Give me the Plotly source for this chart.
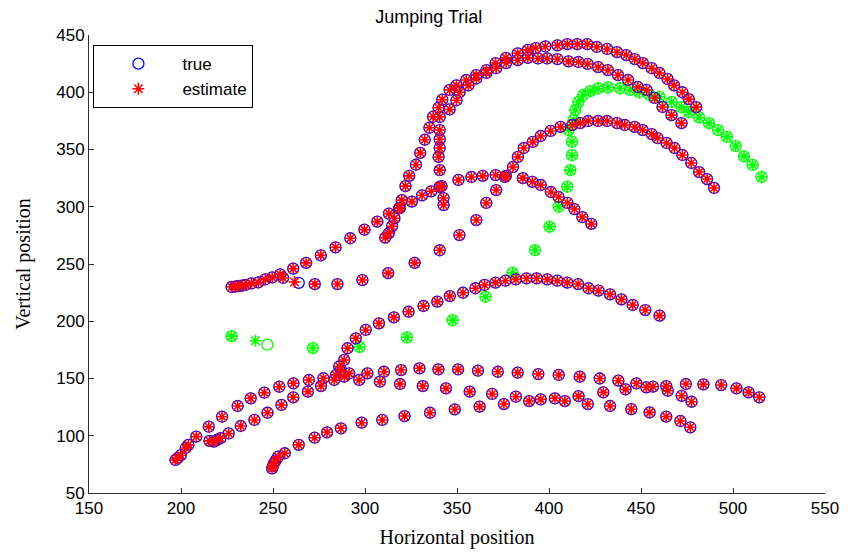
import plotly.graph_objects as go

# ---- tracked objects: true positions (estimates coincide except where noted) ----
track1_x = [227.5, 229.5, 231.3, 233.2, 235.0, 238.3, 242.0, 245.8, 249.6, 253.9, 261.0, 268.0,
            276.0, 284.0, 292.0, 299.7, 306.7, 313.0, 319.0, 325.5, 331.0, 336.0, 341.6, 350.8,
            357.8, 364.0, 371.0, 376.6, 385.8, 391.0, 395.5, 401.0, 405.2, 410.0, 413.8, 418.1, 423.0]
track1_y = [229.9, 230.3, 230.8, 231.2, 231.7, 233.0, 233.9, 236.5, 238.3, 240.9, 246.0, 251.0,
            257.6, 264.6, 272.5, 280.0, 287.0, 294.0, 299.0, 304.5, 310.0, 313.5, 318.0, 323.4,
            326.0, 327.0, 327.7, 327.0, 325.0, 321.8, 319.0, 312.9, 308.5, 303.3, 298.0, 291.0, 285.0]

track2_x = [255.5, 264.0, 272.7, 285.0, 298.6, 312.6, 327.0, 340.6, 351.3, 360.5, 365.9, 371.3,
            376.0, 380.4, 383.1, 386.3, 391.2, 395.5, 400.9, 406.3, 412.7, 417.0, 421.3, 426.7,
            431.6, 437.0, 441.2, 446.6, 450.9, 455.8, 459.0, 463.9, 468.2, 472.5, 477.3, 481.6,
            485.9, 489.7]
track2_y = [237.8, 233.6, 232.4, 232.5, 236.0, 242.0, 251.0, 262.0, 275.3, 288.4, 303.3, 314.6,
            326.0, 334.7, 343.5, 351.3, 356.6, 361.8, 366.2, 369.7, 371.4, 373.1, 374.9, 374.9,
            374.9, 373.1, 371.4, 369.7, 367.0, 363.5, 360.0, 355.7, 351.3, 345.2, 338.2, 330.3,
            324.2, 316.4]

track3_x = [311.0, 313.0, 314.7, 316.0, 318.5, 320.0, 322.0, 324.0, 327.7, 330.0, 332.5, 335.0,
            337.0, 340.0, 342.0, 346.0, 349.7, 355.0, 360.5, 366.0, 371.0, 376.6, 383.0, 388.5,
            392.8, 398.0, 404.6, 410.0, 415.4, 420.8, 426.0, 431.6, 437.0, 442.0, 446.6, 451.0,
            455.8, 460.0, 464.4, 468.0, 472.5, 476.0, 480.0]
track3_y = [273.0, 277.0, 283.0, 290.0, 298.5, 305.8, 318.0, 327.0, 336.7, 347.0, 358.5, 369.0,
            378.6, 386.5, 393.5, 402.0, 406.0, 410.7, 415.0, 419.4, 425.5, 430.0, 434.0, 437.0,
            438.6, 440.0, 441.0, 442.0, 442.0, 442.0, 439.5, 437.8, 435.0, 432.5, 429.0, 425.5,
            421.0, 416.8, 411.6, 406.0, 400.0, 394.0, 387.0]

track4_x = [342.7, 342.7, 340.6, 340.6, 340.0, 340.6, 340.6, 340.6, 340.6, 346.0, 349.7, 351.4,
            356.2, 360.5, 366.0, 371.3, 376.7, 383.0, 388.5, 394.0, 399.0, 404.6, 410.6, 416.0,
            421.0, 426.7, 432.0, 437.5, 443.0, 448.3, 453.0, 457.4, 461.7, 466.6, 472.0]
track4_y = [301.5, 307.6, 317.3, 332.0, 343.5, 351.3, 359.0, 367.0, 378.4, 385.0, 393.0, 400.0,
            406.0, 412.0, 416.8, 421.0, 425.5, 428.0, 430.0, 429.5, 429.5, 429.0, 427.0, 426.4,
            424.7, 422.0, 419.4, 415.0, 410.7, 404.6, 402.0, 395.0, 387.1, 380.0, 373.0]

track5_x = [197.0, 198.2, 199.9, 202.6, 204.0, 208.3, 215.1, 222.3, 230.8, 237.9, 245.3, 253.4,
            261.1, 269.5, 277.4, 284.2, 286.9, 291.4, 301.3, 310.3, 319.6, 329.6, 339.9, 350.6,
            361.4, 372.2, 383.0, 394.2, 405.3, 416.7, 427.6, 437.7, 447.5, 452.9, 456.5, 463.7,
            474.4, 483.9, 493.6, 501.9, 508.5, 514.3]
track5_y = [78.8, 80.5, 83.0, 89.3, 92.0, 99.2, 107.9, 116.6, 126.0, 132.7, 137.6, 142.8,
            145.8, 148.7, 150.2, 153.0, 157.4, 154.5, 154.5, 155.9, 157.4, 158.9, 158.0, 158.0,
            156.8, 155.9, 155.1, 153.9, 153.1, 151.6, 150.0, 148.1, 145.8, 142.3, 142.9, 143.4,
            145.2, 144.9, 144.3, 141.4, 137.9, 133.6]

track6_x = [215.5, 217.8, 219.5, 221.4, 225.9, 232.5, 239.9, 247.0, 254.6, 261.0, 269.0, 276.1,
            283.3, 288.7, 296.8, 308.1, 319.0, 331.4, 344.0, 356.9, 369.1, 382.0, 395.5, 403.2,
            416.1, 429.5, 441.6, 464.6, 472.1, 477.5]
track6_y = [95.5, 94.8, 96.3, 97.8, 102.0, 108.5, 113.8, 120.1, 126.9, 133.6, 138.5, 143.4,
            148.7, 151.6, 148.7, 147.2, 145.2, 143.4, 141.4, 138.5, 136.5, 134.1, 131.8, 132.7,
            134.6, 137.9, 140.5, 139.3, 134.9, 129.7]

track7_x = [286.0, 288.7, 290.5, 295.0, 300.4, 307.6, 315.7, 323.7, 331.8, 339.3, 346.1, 353.3,
            360.0, 365.0, 370.9, 376.3, 382.0, 387.8, 393.3, 399.1, 404.5, 409.9, 415.8, 421.5,
            426.9, 433.2, 439.4, 445.5, 452.3, 460.1]
track7_y = [160.5, 166.2, 176.4, 185.1, 192.4, 198.2, 203.4, 208.3, 213.3, 217.1, 222.0, 224.9,
            228.8, 231.7, 233.7, 235.4, 236.6, 237.5, 237.5, 236.6, 235.4, 233.7, 232.5, 228.8,
            226.7, 223.5, 219.1, 214.2, 209.8, 204.9]

track8_x = [249.5, 250.0, 250.5, 251.5, 252.8, 256.4, 264.0, 272.6, 279.4, 286.9, 298.2, 309.4,
            321.5, 335.3, 348.8, 362.3, 375.5, 389.2, 408.6, 421.1, 433.2, 444.7, 454.7, 463.7,
            471.4, 476.8]
track8_y = [71.5, 73.5, 76.0, 78.5, 81.7, 84.7, 92.0, 98.3, 103.0, 106.5, 111.4, 113.8,
            117.2, 120.1, 123.1, 125.4, 127.7, 130.3, 130.3, 127.7, 126.0, 123.2, 120.4, 116.7,
            112.9, 107.4]

# estimate for track 2 drifts at its second sample
track2_est_x = list(track2_x)
track2_est_y = list(track2_y)
track2_est_x[1], track2_est_y[1] = 261.7, 234.3

# green object (true / estimate)
green_true_x = [227.5, 247.0, 271.7, 297.0, 322.8, 347.6, 365.5, 380.2, 392.4, 400.3, 405.3, 409.9,
                411.6, 412.5, 412.5, 410.7, 413.4, 414.3, 416.0, 418.6, 422.4, 426.7, 432.0, 438.6,
                444.0, 449.0, 454.7, 460.0, 466.6, 472.0, 476.0, 481.6, 487.0, 491.9, 496.7, 501.5,
                506.0, 510.7, 515.5]
green_true_y = [187.0, 179.5, 176.6, 177.5, 186.0, 201.0, 221.4, 242.4, 262.2, 282.6, 300.0, 317.5,
                332.0, 345.0, 356.8, 367.0, 375.8, 384.5, 391.5, 397.6, 401.0, 403.3, 404.2, 403.5,
                402.0, 400.0, 397.6, 396.0, 391.5, 387.0, 382.7, 378.0, 373.0, 367.0, 361.0, 353.0,
                344.0, 336.5, 326.0]
green_est_x = list(green_true_x)
green_est_y = list(green_true_y)
green_est_x[1], green_est_y[1] = 240.5, 183.0

x_ticks = [150, 200, 250, 300, 350, 400, 450, 500, 550]
y_ticks = [50, 100, 150, 200, 250, 300, 350, 400, 450]

tracks_x = [track1_x, track2_x, track3_x, track4_x, track5_x, track6_x, track7_x, track8_x]
tracks_y = [track1_y, track2_y, track3_y, track4_y, track5_y, track6_y, track7_y, track8_y]
est_x = [track1_x, track2_est_x, track3_x, track4_x, track5_x, track6_x, track7_x, track8_x]
est_y = [track1_y, track2_est_y, track3_y, track4_y, track5_y, track6_y, track7_y, track8_y]

true_x = [v for t in tracks_x for v in t]
true_y = [v for t in tracks_y for v in t]
estimate_x = [v for t in est_x for v in t]
estimate_y = [v for t in est_y for v in t]

GREEN = "#00ff00"
fig = go.Figure()
fig.add_trace(go.Scatter(x=green_true_x, y=green_true_y, mode="markers", showlegend=False,
                         marker=dict(symbol="circle-open", size=11, color=GREEN,
                                     line=dict(color=GREEN, width=1.3))))
fig.add_trace(go.Scatter(x=green_est_x, y=green_est_y, mode="markers", showlegend=False,
                         marker=dict(symbol="asterisk-open", size=10, color=GREEN,
                                     line=dict(color=GREEN, width=1.6))))
fig.add_trace(go.Scatter(x=true_x, y=true_y, mode="markers", name="true",
                         marker=dict(symbol="circle-open", size=11, color="#0000ff",
                                     line=dict(color="#0000ff", width=1.3))))
fig.add_trace(go.Scatter(x=estimate_x, y=estimate_y, mode="markers", name="estimate",
                         marker=dict(symbol="asterisk-open", size=10, color="#ff0000",
                                     line=dict(color="#ff0000", width=1.6))))

axis_common = dict(showgrid=False, zeroline=False, showline=True, linecolor="#303030",
                   linewidth=1, ticks="inside", ticklen=5, tickcolor="#303030", mirror=False,
                   tickfont=dict(family="Liberation Sans, Arial", size=17, color="#000000"))

fig.update_layout(
    width=851, height=556,
    margin=dict(l=89, r=19, t=35, b=63),
    paper_bgcolor="white", plot_bgcolor="white",
    xaxis=dict(range=[150, 550], tickvals=x_ticks, **axis_common,
               title=dict(text="Horizontal position", standoff=12,
                          font=dict(family="Liberation Serif, Times New Roman", size=20, color="#000"))),
    yaxis=dict(range=[50, 450], tickvals=y_ticks, **axis_common,
               title=dict(text="Vertical position", standoff=20,
                          font=dict(family="Liberation Serif, Times New Roman", size=20, color="#000"))),
    title=dict(text="Jumping Trial", x=0.4617, xref="paper", xanchor="center", y=0.97, yanchor="middle",
               font=dict(family="Liberation Sans, Arial", size=18, color="#000")),
    legend=dict(x=0.006, y=0.978, xanchor="left", yanchor="top", bgcolor="white",
                bordercolor="#000", borderwidth=1, itemwidth=78, tracegroupgap=0,
                font=dict(family="Liberation Sans, Arial", size=17, color="#000")),
)

fig.write_html("out.html")
